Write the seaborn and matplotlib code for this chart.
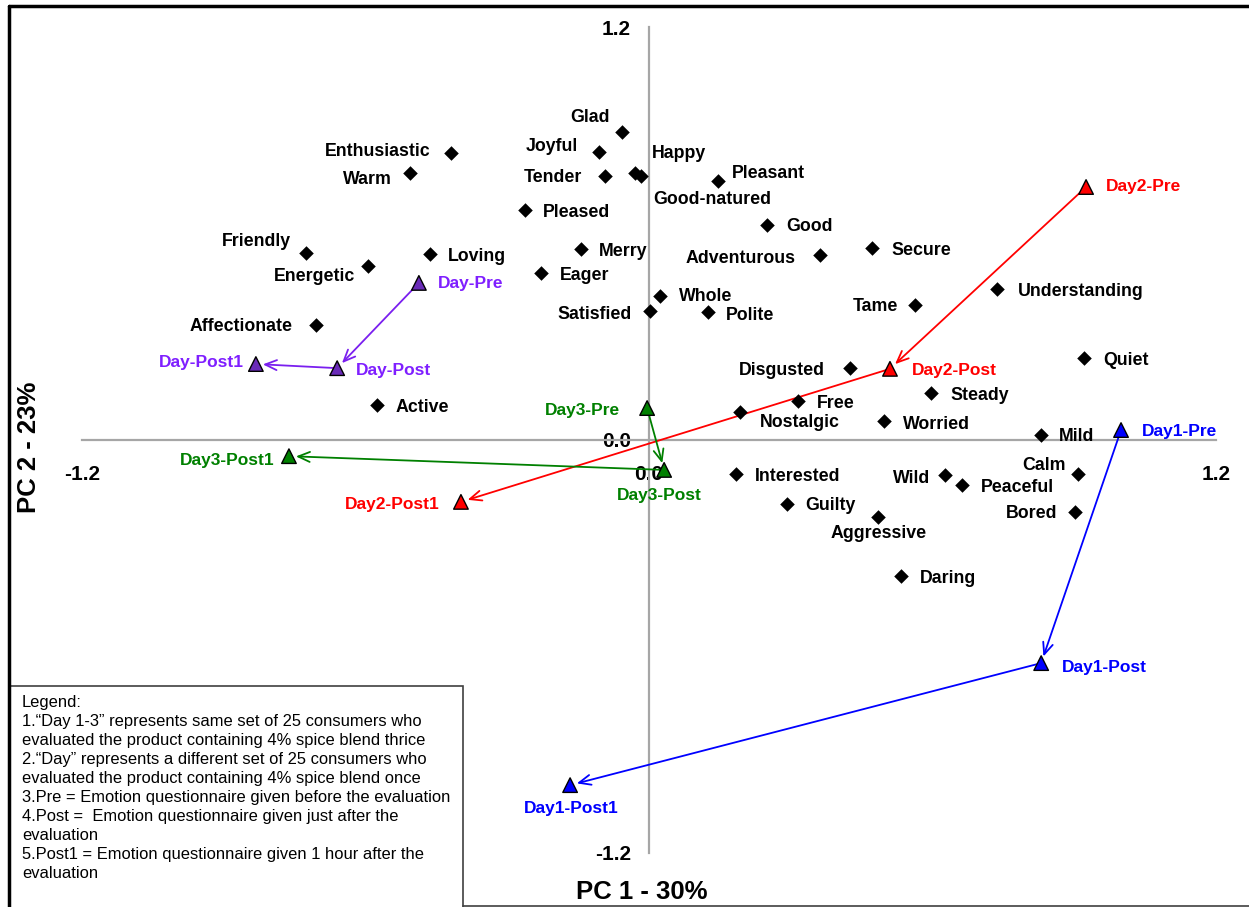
import matplotlib
matplotlib.use("Agg")
import matplotlib.pyplot as plt
import seaborn as sns
import pandas as pd
from matplotlib.lines import Line2D
from matplotlib.patches import Rectangle

# ---- emotion attributes (PC1, PC2 loadings) ----
emotions = ["Enthusiastic", "Warm", "Glad", "Joyful", "Tender", "Happy", "Good-natured",
            "Pleasant", "Pleased", "Good", "Friendly", "Energetic", "Loving", "Merry",
            "Eager", "Adventurous", "Secure", "Whole", "Satisfied", "Polite", "Tame",
            "Understanding", "Affectionate", "Disgusted", "Quiet", "Steady", "Free",
            "Nostalgic", "Worried", "Active", "Mild", "Interested", "Calm", "Wild",
            "Peaceful", "Guilty", "Bored", "Aggressive", "Daring"]
emo_pc1 = [-0.419, -0.506, -0.057, -0.106, -0.093, -0.030, -0.017,
           0.146, -0.262, 0.250, -0.726, -0.595, -0.463, -0.144,
           -0.229, 0.362, 0.472, 0.023, 0.002, 0.125, 0.563,
           0.737, -0.705, 0.425, 0.921, 0.597, 0.315,
           0.193, 0.497, -0.576, 0.830, 0.184, 0.908, 0.626,
           0.662, 0.292, 0.902, 0.485, 0.533]
emo_pc2 = [0.835, 0.777, 0.896, 0.838, 0.768, 0.777, 0.768,
           0.753, 0.669, 0.625, 0.544, 0.506, 0.541, 0.556,
           0.486, 0.538, 0.559, 0.419, 0.375, 0.372, 0.393,
           0.439, 0.335, 0.209, 0.239, 0.137, 0.113,
           0.081, 0.055, 0.102, 0.015, -0.099, -0.099, -0.102,
           -0.131, -0.186, -0.209, -0.224, -0.396]

# ---- session scores ----
sessions = ["Day-Pre", "Day-Post", "Day-Post1",
            "Day1-Pre", "Day1-Post", "Day1-Post1",
            "Day2-Pre", "Day2-Post", "Day2-Post1",
            "Day3-Pre", "Day3-Post", "Day3-Post1"]
groups = ["Day"] * 3 + ["Day1"] * 3 + ["Day2"] * 3 + ["Day3"] * 3
ses_pc1 = [-0.487, -0.660, -0.832,
           0.999, 0.830, -0.167,
           0.925, 0.510, -0.398,
           -0.004, 0.032, -0.762]
ses_pc2 = [0.457, 0.209, 0.221,
           0.029, -0.649, -1.004,
           0.736, 0.207, -0.180,
           0.093, -0.087, -0.047]

ticks = [-1.2, 0.0, 1.2]
tick_labels = ["-1.2", "0.0", "1.2"]
x_title = "PC 1 - 30%"
y_title = "PC 2 - 23%"
legend_lines = [
    "Legend:",
    "1.\u201cDay 1-3\u201d represents same set of 25 consumers who",
    "evaluated the product containing 4% spice blend thrice",
    "2.\u201cDay\u201d represents a different set of 25 consumers who",
    "evaluated the product containing 4% spice blend once",
    "3.Pre = Emotion questionnaire given before the evaluation",
    "4.Post =  Emotion questionnaire given just after the",
    "evaluation",
    "5.Post1 = Emotion questionnaire given 1 hour after the",
    "evaluation",
]

# ---- styling ----
marker_fill = {"Day": "#6A2BB8", "Day1": "#0000FF", "Day2": "#FF0000", "Day3": "#008000"}
line_col = {"Day": "#7A1FEF", "Day1": "#0000FF", "Day2": "#FF0000", "Day3": "#008000"}
text_col = {"Day": "#7F1FFF", "Day1": "#0000FF", "Day2": "#FF0000", "Day3": "#008000"}

# label placement: (dx px, dy px, horizontal alignment)
emo_place = {
    "Enthusiastic": (-21, 1, "right"), "Warm": (-18, -7, "right"), "Glad": (-12, 14, "right"),
    "Joyful": (-21, 5, "right"), "Tender": (-23, -2, "right"), "Happy": (17, 19, "left"),
    "Good-natured": (12, -23, "left"), "Pleasant": (14, 8, "left"), "Pleased": (18, -2, "left"),
    "Good": (19, -1, "left"), "Friendly": (-15, 12, "right"), "Energetic": (-13, -10, "right"),
    "Loving": (18, -2, "left"), "Merry": (18, -3, "left"), "Eager": (19, -3, "left"),
    "Adventurous": (-24, -3, "right"), "Secure": (19, -3, "left"), "Whole": (19, -1, "left"),
    "Satisfied": (-18, -3, "right"), "Polite": (18, -3, "left"), "Tame": (-17, -2, "right"),
    "Understanding": (21, -2, "left"), "Affectionate": (-23, -2, "right"),
    "Disgusted": (-25, -2, "right"), "Quiet": (19, -3, "left"), "Steady": (19, -3, "left"),
    "Free": (19, -2, "left"), "Nostalgic": (20, -10, "left"), "Worried": (19, -3, "left"),
    "Active": (19, -3, "left"), "Mild": (18, -2, "left"), "Interested": (19, -2, "left"),
    "Calm": (-12, 9, "right"), "Wild": (-15, -3, "right"), "Peaceful": (19, -2, "left"),
    "Guilty": (18, -2, "left"), "Bored": (-18, -2, "right"), "Aggressive": (0, -16, "center"),
    "Daring": (19, -2, "left"),
}
ses_place = {
    "Day-Pre": (19, -1, "left"), "Day-Post": (19, -2, "left"), "Day-Post1": (-12, 2, "right"),
    "Day1-Pre": (21, -1, "left"), "Day1-Post": (21, -4, "left"), "Day1-Post1": (1, -23, "center"),
    "Day2-Pre": (20, 0, "left"), "Day2-Post": (22, -2, "left"), "Day2-Post1": (-21, -3, "right"),
    "Day3-Pre": (-27, -2, "right"), "Day3-Post": (-5, -26, "center"), "Day3-Post1": (-14, -4, "right"),
}

sns.set_theme(style="white")
plt.rcParams["font.family"] = ["Liberation Sans", "DejaVu Sans"]
plt.rcParams["text.color"] = "black"
plt.rcParams["xtick.labelcolor"] = "black"
plt.rcParams["ytick.labelcolor"] = "black"

W, H, DPI = 1249, 907, 100
fig = plt.figure(figsize=(W / DPI, H / DPI), dpi=DPI)
ax = fig.add_axes([0, 0, 1, 1])
ax.set_facecolor("white")

# pixel geometry of the data frame
x0_px, y0_px, sx, sy = 649, 440, 472.5, 343.75
ax.set_xlim(-x0_px / sx, (W - x0_px) / sx)
ax.set_ylim(-(H - y0_px) / sy, y0_px / sy)

emo_df = pd.DataFrame({"emotion": emotions, "pc1": emo_pc1, "pc2": emo_pc2})
ses_df = pd.DataFrame({"session": sessions, "group": groups, "pc1": ses_pc1, "pc2": ses_pc2})

# crossing axes through the origin
for side in ["top", "right"]:
    ax.spines[side].set_visible(False)
for side in ["left", "bottom"]:
    ax.spines[side].set_position("zero")
    ax.spines[side].set_color("#A6A6A6")
    ax.spines[side].set_linewidth(1.6)
    ax.spines[side].set_bounds(-1.2, 1.2)
ax.set_xticks(ticks)
ax.set_xticklabels(tick_labels)
ax.set_yticks(ticks)
ax.set_yticklabels(tick_labels)
ax.tick_params(axis="x", direction="out", length=5, width=1.2, color="#A6A6A6",
               pad=13, labelsize=15, labelcolor="black")
ax.tick_params(axis="y", direction="out", length=5, width=1.2, color="#A6A6A6",
               pad=8, labelsize=15, labelcolor="black")
for lab in ax.get_xticklabels() + ax.get_yticklabels():
    lab.set_fontweight("bold")
ax.grid(False)

# emotion attributes
sns.scatterplot(data=emo_df, x="pc1", y="pc2", marker="D", color="black", s=55,
                linewidth=0, ax=ax, zorder=4, legend=False)
for name, x, y in zip(emotions, emo_pc1, emo_pc2):
    dx, dy, ha = emo_place[name]
    ax.annotate(name, (x, y), xytext=(dx, dy), textcoords="offset pixels",
                ha=ha, va="center", fontsize=12.8, fontweight="bold", color="black", zorder=5)

# session trajectories: Pre -> Post -> Post1
for g in ["Day", "Day1", "Day2", "Day3"]:
    sub = ses_df[ses_df["group"] == g].reset_index(drop=True)
    for i in range(len(sub) - 1):
        ax.annotate("", xy=(sub.pc1[i + 1], sub.pc2[i + 1]), xytext=(sub.pc1[i], sub.pc2[i]),
                    arrowprops=dict(arrowstyle="->,head_length=0.7,head_width=0.3",
                                    color=line_col[g], lw=1.3, shrinkA=0, shrinkB=5),
                    zorder=3)

sns.scatterplot(data=ses_df, x="pc1", y="pc2", hue="group", palette=marker_fill,
                marker="^", s=110, edgecolor="black", linewidth=1.0, ax=ax,
                zorder=6, legend=False)
for name, g, x, y in zip(sessions, groups, ses_pc1, ses_pc2):
    dx, dy, ha = ses_place[name]
    ax.annotate(name, (x, y), xytext=(dx, dy), textcoords="offset pixels",
                ha=ha, va="center", fontsize=12.5, fontweight="bold", color=text_col[g], zorder=7)

ax.set_xlabel("")
ax.set_ylabel("")
ax.text(642 / W, 1 - 892 / H, x_title, transform=ax.transAxes, ha="center", va="center",
        fontsize=18.5, fontweight="bold", color="black")
ax.text(29 / W, 1 - 447 / H, y_title, transform=ax.transAxes, ha="center", va="center",
        rotation=90, fontsize=18.5, fontweight="bold", color="black")

# notes box
fig.add_artist(Rectangle((10 / W, -0.01), (463 - 10) / W, 0.01 + (H - 686) / H,
                         transform=fig.transFigure, facecolor="white",
                         edgecolor="#404040", linewidth=1.2, zorder=8))
for k, line in enumerate(legend_lines):
    fig.text(22 / W, 1 - (703 + 18.9 * k) / H, line, ha="left", va="center",
             fontsize=11.9, color="black", zorder=9)

# outer frame
fig.add_artist(Line2D([9 / W, 9 / W], [0, 1 - 6 / H], transform=fig.transFigure,
                      color="black", lw=2.5, zorder=10))
fig.add_artist(Line2D([9 / W, 1], [1 - 6 / H, 1 - 6 / H], transform=fig.transFigure,
                      color="black", lw=2.5, zorder=10))
fig.add_artist(Line2D([463 / W, 1], [1 - 905.5 / H, 1 - 905.5 / H], transform=fig.transFigure,
                      color="#404040", lw=1.2, zorder=10))

fig.savefig("out.png", dpi=DPI, facecolor="white")
